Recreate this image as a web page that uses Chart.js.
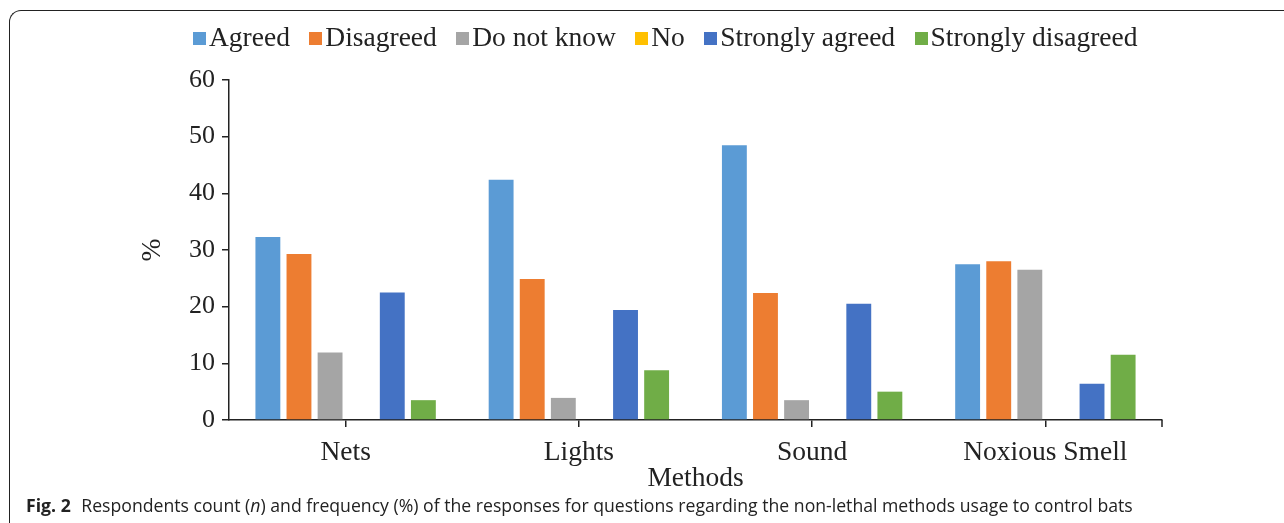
<!DOCTYPE html>
<html>
<head>
<meta charset="utf-8">
<script src="https://cdn.jsdelivr.net/npm/chart.js@4/dist/chart.umd.min.js"></script>
<style>
  html, body { margin: 0; padding: 0; background: #fff; }
  body { width: 1284px; height: 523px; position: relative; overflow: hidden; }
  #frame {
    position: absolute; left: 9px; top: 10px; width: 1300px; height: 540px;
    border-top: 1.5px solid #222; border-left: 1.5px solid #222;
    border-top-left-radius: 12px;
  }
  #wrap { position: absolute; left: 0; top: 0; width: 1284px; height: 523px; }
  #legend {
    position: absolute; left: 193px; top: 20px; height: 34px;
    display: flex; align-items: center; white-space: nowrap;
    font-family: 'Liberation Serif', 'Times New Roman', serif; font-size: 27.5px; color: #222;
  }
  #legend .item { display: flex; align-items: center; margin-right: 19.4px; }
  #legend .box { width: 13px; height: 13px; margin-right: 3px; margin-top: 2px; }
  #caption {
    position: absolute; left: 26px; top: 493px; white-space: nowrap;
    font-family: "Open Sans", sans-serif; font-size: 17.65px; color: #222;
  }
  #caption b { margin-right: 6px; }
</style>
</head>
<body>
<div id="frame"></div>
<div id="wrap"><canvas id="myChart" width="1284" height="523"></canvas></div>
<div id="legend"></div>
<div id="caption"><b>Fig. 2</b> Respondents count (<i>n</i>) and frequency (%) of the responses for questions regarding the non-lethal methods usage to control bats</div>
<script>
const methods = ["Nets", "Lights", "Sound", "Noxious Smell"];
const agreed = [32.3, 42.4, 48.5, 27.5];
const disagreed = [29.3, 24.9, 22.4, 28.0];
const doNotKnow = [11.9, 3.9, 3.5, 26.5];
const no = [0, 0, 0, 0];
const stronglyAgreed = [22.5, 19.4, 20.5, 6.4];
const stronglyDisagreed = [3.5, 8.8, 5.0, 11.5];
const yTicks = [0, 10, 20, 30, 40, 50, 60];

const serif = "'Liberation Serif', 'Times New Roman', serif";

// end tick at the right end of the x axis, like the original
const endTick = {
  id: 'endTick',
  afterDraw(chart) {
    const ctx = chart.ctx;
    const a = chart.chartArea;
    ctx.save();
    ctx.strokeStyle = '#222';
    ctx.lineWidth = 1.5;
    ctx.beginPath();
    ctx.moveTo(a.right, a.bottom);
    ctx.lineTo(a.right, a.bottom + 7);
    ctx.stroke();
    ctx.restore();
  }
};

const chart = new Chart("myChart", {
  type: "bar",
  data: {
    labels: methods,
    datasets: [
      { label: "Agreed", data: agreed, backgroundColor: "#5b9bd5" },
      { label: "Disagreed", data: disagreed, backgroundColor: "#ed7d31" },
      { label: "Do not know", data: doNotKnow, backgroundColor: "#a5a5a5" },
      { label: "No", data: no, backgroundColor: "#ffc000" },
      { label: "Strongly agreed", data: stronglyAgreed, backgroundColor: "#4472c4" },
      { label: "Strongly disagreed", data: stronglyDisagreed, backgroundColor: "#70ad47" }
    ]
  },
  plugins: [endTick],
  options: {
    responsive: false,
    animation: false,
    devicePixelRatio: 1,
    categoryPercentage: 0.8,
    barPercentage: 0.8,
    layout: {
      padding: { left: 128, right: 122, top: 80, bottom: 28 }
    },
    plugins: {
      legend: { display: false },
      tooltip: { enabled: false }
    },
    scales: {
      x: {
        afterFit: (s) => { s.height = 75; },
        grid: { display: true, offset: false, drawOnChartArea: false, tickLength: 7, color: '#222', lineWidth: 1.5 },
        border: { display: true, color: '#222', width: 1.5 },
        ticks: { color: '#222', font: { family: serif, size: 27.5 }, padding: 9 },
        title: { display: true, text: 'Methods', color: '#222', font: { family: serif, size: 27.5 }, padding: { top: 0, bottom: 0 } }
      },
      y: {
        min: 0,
        max: 60,
        afterBuildTicks: (s) => { s.ticks = yTicks.map(v => ({ value: v })); },
        afterFit: (s) => { s.width = 101; },
        grid: { display: true, drawOnChartArea: false, tickLength: 7, color: '#222', lineWidth: 1.5 },
        border: { display: true, color: '#222', width: 1.5 },
        ticks: { color: '#222', font: { family: serif, size: 26 }, padding: 7 },
        title: { display: true, text: '%', color: '#222', font: { family: serif, size: 27.5 }, padding: { top: 8, bottom: 0 } }
      }
    }
  }
});

// legend built from the chart's datasets
const legendEl = document.getElementById('legend');
chart.data.datasets.forEach(ds => {
  const item = document.createElement('span');
  item.className = 'item';
  const box = document.createElement('span');
  box.className = 'box';
  box.style.background = ds.backgroundColor;
  item.appendChild(box);
  item.appendChild(document.createTextNode(ds.label));
  legendEl.appendChild(item);
});
</script>
</body>
</html>
